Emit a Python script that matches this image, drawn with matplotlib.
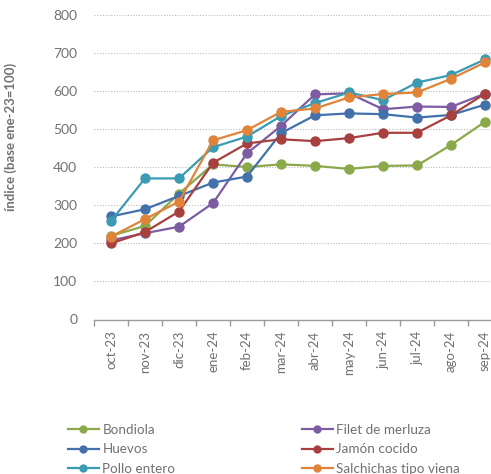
import matplotlib

matplotlib.use('Agg')
import matplotlib.pyplot as plt
from matplotlib.lines import Line2D
import numpy as np

plt.rcParams['font.family'] = ['Lato', 'DejaVu Sans']

meses = ['oct-23', 'nov-23', 'dic-23', 'ene-24', 'feb-24', 'mar-24',
         'abr-24', 'may-24', 'jun-24', 'jul-24', 'ago-24', 'sep-24']

bondiola = [220, 246, 331, 408, 401, 408, 404, 396, 404, 405, 459, 520]
filet_merluza = [208, 227, 244, 306, 437, 509, 592, 595, 553, 560, 559, 594]
huevos = [271, 290, 325, 360, 376, 490, 537, 542, 540, 531, 538, 565]
jamon_cocido = [200, 230, 284, 412, 463, 474, 469, 477, 491, 491, 537, 594]
pollo_entero = [259, 371, 371, 453, 481, 535, 569, 597, 577, 623, 643, 684]
salchichas = [218, 264, 310, 471, 498, 546, 555, 584, 593, 597, 633, 676]

series = [
    ('Bondiola', bondiola, '#8ba84a'),
    ('Filet de merluza', filet_merluza, '#7d5ca2'),
    ('Huevos', huevos, '#4271ab'),
    ('Jamón cocido', jamon_cocido, '#a8403f'),
    ('Pollo entero', pollo_entero, '#3a9bb3'),
    ('Salchichas tipo viena', salchichas, '#e2833a'),
]

gris = '#717171'

fig = plt.figure(figsize=(4.91, 4.74), dpi=100)
ax = fig.add_axes([94 / 491, 1 - 319.5 / 474, 408 / 491, 304.2 / 474])

x = np.arange(len(meses))
handles = {}
for nombre, vals, col in series:
    ln, = ax.plot(x, vals, color=col, lw=1.6, marker='o', ms=7.5,
                  markeredgewidth=0, label=nombre)
    handles[nombre] = ln

ax.set_xlim(-0.5, len(meses) - 0.5)
ax.set_ylim(0, 800)
ax.set_yticks(np.arange(0, 801, 100))
ax.yaxis.grid(True, color='#bdbdbd', linestyle=(0, (1, 1.5)), lw=0.8)
ax.set_axisbelow(True)

ax.set_xticks(x)
ax.set_xticklabels(meses, rotation=90)
ax.set_xticks(np.arange(-0.5, len(meses), 1), minor=True)
ax.tick_params(axis='x', which='major', length=0, pad=8, labelsize=9.5,
               labelcolor=gris)
ax.tick_params(axis='x', which='minor', length=4, color='#9a9a9a', width=1)
ax.tick_params(axis='y', length=0, pad=12, labelsize=10, labelcolor=gris)

for s in ['top', 'right', 'left']:
    ax.spines[s].set_visible(False)
ax.spines['bottom'].set_color('#9a9a9a')
ax.spines['bottom'].set_linewidth(1)

ax.set_ylabel('índice (base ene-23=100)', fontsize=9.5, fontweight='bold',
              color=gris)
ax.yaxis.set_label_coords(-0.189, 0.6)


def entrada(nombre):
    col = handles[nombre].get_color()
    return Line2D([], [], color=col, lw=1.6, marker='o', ms=6,
                  markeredgewidth=0)


col1 = ['Bondiola', 'Huevos', 'Pollo entero']
col2 = ['Filet de merluza', 'Jamón cocido', 'Salchichas tipo viena']
for nombres, xpos in [(col1, 68 / 491), (col2, 302 / 491)]:
    fig.legend([entrada(n) for n in nombres], nombres, loc='upper left',
               bbox_to_anchor=(xpos, 1 - 424 / 474), frameon=False,
               borderpad=0, borderaxespad=0, handlelength=2.3,
               handletextpad=0.25, labelspacing=0.55, fontsize=9.7,
               labelcolor=gris)

plt.savefig('out.png', dpi=100)
